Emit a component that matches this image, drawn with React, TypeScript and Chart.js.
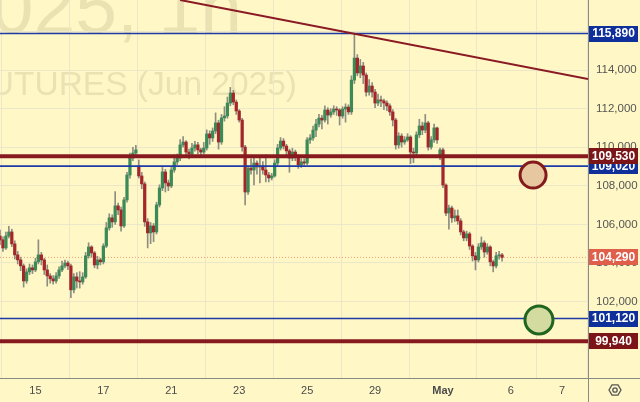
import React, { useEffect, useRef } from "react";
import { Chart, registerables } from "chart.js";

Chart.register(...registerables);

// ---------- DATA ----------
const opens = [105400,105200,104780,105400,105610,104990,104420,104160,103850,103070,
103540,103750,103640,104060,104420,104160,103640,103330,103180,103070,
103330,103640,103850,104000,103850,102610,103280,103070,103020,103280,
104370,104830,104520,103900,104160,104060,104880,105820,106340,106130,
106960,106750,105920,107270,108560,109440,109700,109030,108510,108100,
106130,105560,105920,105610,107010,107890,108720,108150,107990,108820,
109240,109440,110120,110270,109750,109650,109960,110120,109860,109750,
109960,110690,110480,110840,111260,110270,111520,111620,112290,112810,
112340,111880,111410,110010,107680,108920,108820,109180,108980,109030,
108820,108560,108410,108510,109180,109960,110320,110060,109810,109440,
109750,109490,109080,109240,109180,110380,110480,110890,111200,111510,
111410,111930,111670,111830,111980,111930,111620,111980,112080,111830,
113480,114620,113850,114210,113740,112860,113170,112860,112290,112450,
112400,112290,112140,111830,111410,110120,110580,110270,110380,110530,
109750,109700,110640,111100,110890,111260,110010,110380,111000,109490,
109860,108040,106590,106850,106340,106440,106180,105610,105300,105510,
104880,104370,104160,104830,105040,104570,104830,104060,103850,104370,
104420];

const closes = [105200,104780,105400,105610,104990,104420,104160,103850,103070,103540,
103750,103640,104060,104420,104160,103640,103330,103180,103070,103330,
103640,103850,104000,103850,102610,103280,103070,103020,103280,104370,
104830,104520,103900,104160,104060,104880,105820,106340,106130,106960,
106750,105920,107270,108560,109440,109700,109860,108510,108100,106130,
105560,105920,105610,107010,107890,108720,108150,107990,108820,109240,
109440,110120,110270,109750,109650,109960,110120,109860,109750,109960,
110690,110480,110840,111260,110270,111520,111620,112290,112810,112340,
111880,111410,110010,107680,108920,108820,109180,108980,109030,108820,
108560,108410,108510,109180,109960,110320,110060,109810,109440,109750,
109490,109080,109240,109180,110380,110480,110890,111200,111510,111410,
111930,111670,111830,111980,111930,111620,111980,112080,111830,113480,
114620,113850,114210,113740,112860,113170,112860,112290,112450,112400,
112290,112140,111830,111410,110120,110580,110270,110380,110530,109750,
109700,110640,111100,110890,111260,110010,110380,111000,110380,109860,
108040,106590,106850,106340,106440,106180,105610,105300,105510,104880,
104370,104160,104830,105040,104570,104830,104060,103850,104370,104420,
104290];

const highs = [105700,105350,105600,105900,105750,105150,104600,104300,103950,103700,
103950,103900,104250,105200,104550,104250,103900,103450,103350,103500,
103800,104100,104150,104100,103950,103450,103500,103550,103500,104550,
105050,104900,104600,104350,104250,105000,106100,106550,106500,107700,
107100,106900,107400,108700,109700,110000,110100,109340,108700,108200,
106300,106100,106050,107150,108050,108950,108850,108300,108950,109600,
109650,110400,110550,110350,109900,110200,110300,110250,109950,110250,
110900,110850,111000,111780,111400,111700,112100,112600,113100,112950,
112450,111950,111500,110100,109050,109400,109450,109300,109500,109250,
109600,108700,108650,109350,110150,110500,110450,110150,109900,109950,
109850,109600,109400,109400,110500,110650,111100,111450,111700,111650,
112150,112050,112000,112150,112100,112000,112100,112250,112200,113700,
115890,114800,114550,114400,113850,113500,113350,113000,112750,112650,
112500,112400,112250,111950,111500,110750,110700,110550,110700,110600,
109950,110800,111450,111300,111700,111350,110550,111200,111050,109950,
109950,108100,107000,106950,106750,106750,106300,105700,105650,105600,
104950,104550,105000,105350,105150,105000,104900,104150,104550,104600,
104500];

const lows = [104950,104600,104700,105300,104850,104200,103950,103600,102750,102950,
103400,103450,103550,103950,103900,103400,102800,102950,102900,102950,
103200,103550,103750,103650,102200,102450,102700,102700,102900,103200,
104250,104300,103750,103700,103900,103950,104800,105700,105850,106000,
106500,105650,105850,107150,108400,109300,109550,108400,107850,105900,
104780,105000,105100,105500,106900,107750,107680,107750,107900,108700,
109100,109300,110000,109500,109400,109550,109800,109650,109550,109650,
109850,110150,110300,110700,109900,110150,111350,111500,112150,112200,
111700,111300,109800,107010,107550,108600,108050,108600,108150,108600,
108200,108200,108300,108450,109050,109850,109900,109600,108700,109300,
109300,108900,108950,109050,109100,110200,110350,110550,111050,110950,
111300,111200,111550,111700,111650,111150,111500,111300,111700,111700,
113300,113700,113600,113300,112650,112700,112600,112050,112150,112100,
111950,111900,111650,111100,109900,109950,110000,110150,110300,109150,
109200,109600,110500,110650,110750,109850,109900,110250,110200,109350,
107900,106450,105750,106100,106150,106000,105450,105150,105150,104700,
104100,103640,104050,104700,104300,104450,103850,103540,103750,104200,
104100];

// x axis (bar index units) tick positions and labels
const xTickPositions = [12, 35, 58, 81, 104, 127, 150, 173, 190.3];
const xTickLabels = ["15", "17", "21", "23", "25", "29", "May", "6", "7"];

// y axis ticks
const yTickValues = [100000, 102000, 104000, 106000, 108000, 110000, 112000, 114000, 116000];

// horizontal levels
const blueLevels = [115890, 109020, 101120];
const redLevels = [109530, 99940];
const lastPrice = 104290;

// trend line (bar index, price)
const trendX = [61, 199.1];
const trendY = [117630, 113530];

// circle markers (bar index, price)
const redCircle = { x: 180.5, y: 108560 };
const greenCircle = { x: 182.5, y: 101050 };

const X_MIN = 0;
const X_MAX = 199.1;
const Y_MIN = 98040;
const Y_MAX = 117630;

// ---------- STYLE ----------
const BG = "#fff8c6";
const GRID = "#ede7c9";
const GREEN = "#3c8a58";
const RED = "#a3272a";
const WICK = "#8d8d82";
const BLUE_LINE = "#1c3aa8";
const RED_LINE = "#861a1e";
const BLUE_BOX = "#0f2f9a";
const RED_BOX = "#7c1517";
const PRICE_BOX = "#e05f4b";
const FONT = "'Liberation Sans', Arial, sans-serif";

const fmt = (v: number) => v.toLocaleString("en-US");

const decoPlugin = {
  id: "deco",
  beforeDraw(chart: any) {
    const { ctx, width, height, chartArea: a } = chart;
    ctx.save();
    ctx.fillStyle = BG;
    ctx.fillRect(0, 0, width, height);
    ctx.beginPath();
    ctx.rect(a.left, a.top, a.right - a.left, a.bottom - a.top);
    ctx.clip();
    ctx.fillStyle = "rgba(140,130,90,0.18)";
    ctx.textAlign = "right";
    ctx.textBaseline = "alphabetic";
    ctx.font = `75px ${FONT}`;
    ctx.fillText("BTCM2025, 1h", 242, 33);
    ctx.font = `33.5px ${FONT}`;
    ctx.fillText("BITCOIN FUTURES (Jun 2025)", 297, 95);
    ctx.restore();
  },
  afterDraw(chart: any) {
    const { ctx, width, height, chartArea: a } = chart;
    const ys = chart.scales.y;
    ctx.save();
    // axis separator lines
    ctx.strokeStyle = "#8a8a84";
    ctx.lineWidth = 1;
    ctx.beginPath();
    ctx.moveTo(Math.round(a.right) + 0.5, 0);
    ctx.lineTo(Math.round(a.right) + 0.5, height);
    ctx.moveTo(0, Math.round(a.bottom) + 0.5);
    ctx.lineTo(width, Math.round(a.bottom) + 0.5);
    ctx.stroke();

    // level labels
    const labels = [
      ...blueLevels.map((v) => ({ v, bg: BLUE_BOX })),
      ...redLevels.map((v) => ({ v, bg: RED_BOX })),
      { v: lastPrice, bg: PRICE_BOX },
    ];
    ctx.font = `bold 12px ${FONT}`;
    ctx.textAlign = "center";
    ctx.textBaseline = "middle";
    for (const l of labels) {
      const py = ys.getPixelForValue(l.v);
      ctx.fillStyle = l.bg;
      ctx.fillRect(a.right + 1, Math.round(py) - 8, 49, 16);
      ctx.fillStyle = "#ffffff";
      ctx.fillText(fmt(l.v), a.right + 25.5, py + 0.5);
    }

    // settings icon
    const cx = 615, cy = 390, r = 6;
    ctx.strokeStyle = "#555";
    ctx.lineWidth = 1.3;
    ctx.beginPath();
    for (let k = 0; k < 6; k++) {
      const ang = (Math.PI / 3) * k;
      const px = cx + r * Math.cos(ang), py = cy + r * Math.sin(ang);
      if (k === 0) ctx.moveTo(px, py); else ctx.lineTo(px, py);
    }
    ctx.closePath();
    ctx.stroke();
    ctx.beginPath();
    ctx.arc(cx, cy, 2.2, 0, Math.PI * 2);
    ctx.stroke();
    ctx.restore();
  },
};

const noPad = (s: any) => {
  s.paddingTop = 0;
  s.paddingBottom = 0;
  s.paddingLeft = 0;
  s.paddingRight = 0;
};

export default function App() {
  const ref = useRef<HTMLCanvasElement>(null);
  useEffect(() => {
    if (!ref.current) return;
    const idx = closes.map((_, i) => i);
    const bodyColors = idx.map((i) => (closes[i] >= opens[i] ? GREEN : RED));
    const flat = (v: number) => [{ x: X_MIN, y: v }, { x: X_MAX, y: v }];
    const datasets: any[] = [
      {
        type: "line",
        data: flat(lastPrice),
        borderColor: "#ee9a7c",
        borderWidth: 1,
        borderDash: [1, 2],
        pointRadius: 0,
        order: 6,
      },
      {
        type: "bar",
        data: idx.map((i) => ({ x: i, y: [lows[i], highs[i]] })),
        backgroundColor: WICK,
        barThickness: 1,
        grouped: false,
        order: 5,
      },
      {
        type: "bar",
        data: idx.map((i) => ({ x: i, y: [opens[i], closes[i]] })),
        backgroundColor: bodyColors,
        barThickness: 2.6,
        minBarLength: 1,
        grouped: false,
        order: 4,
      },
      ...blueLevels.map((v) => ({
        type: "line",
        data: flat(v),
        borderColor: BLUE_LINE,
        borderWidth: 1.6,
        pointRadius: 0,
        order: 3,
      })),
      ...redLevels.map((v) => ({
        type: "line",
        data: flat(v),
        borderColor: RED_LINE,
        borderWidth: 4,
        pointRadius: 0,
        order: 3,
      })),
      {
        type: "line",
        data: trendX.map((x, k) => ({ x, y: trendY[k] })),
        borderColor: "#8a1a24",
        borderWidth: 2,
        pointRadius: 0,
        order: 2,
      },
      {
        type: "line",
        data: [redCircle],
        showLine: false,
        pointRadius: 13,
        pointBorderWidth: 3,
        pointBackgroundColor: "#e6c79f",
        pointBorderColor: "#841a1c",
        order: 1,
      },
      {
        type: "line",
        data: [greenCircle],
        showLine: false,
        pointRadius: 14,
        pointBorderWidth: 3,
        pointBackgroundColor: "#d3dba0",
        pointBorderColor: "#1f641f",
        order: 0,
      },
    ];

    const chart = new Chart(ref.current, {
      type: "bar",
      data: { datasets },
      plugins: [decoPlugin],
      options: {
        animation: false,
        responsive: false,
        maintainAspectRatio: false,
        events: [],
        layout: { padding: 0, autoPadding: false },
        plugins: { legend: { display: false }, tooltip: { enabled: false } },
        scales: {
          x: {
            type: "linear",
            min: X_MIN,
            max: X_MAX,
            offset: false,
            afterBuildTicks: (s: any) => {
              s.ticks = xTickPositions.map((v) => ({ value: v }));
            },
            afterFit: (s: any) => {
              s.height = 24;
              noPad(s);
            },
            grid: { color: GRID, drawTicks: false, lineWidth: 1 },
            border: { display: false },
            ticks: {
              autoSkip: false,
              maxRotation: 0,
              padding: 6,
              color: "#4a4a4a",
              font: (c: any) => ({
                family: FONT,
                size: 11,
                weight: c.tick && c.tick.value === 150 ? "bold" : "normal",
              }),
              callback: (v: any) => {
                const k = xTickPositions.indexOf(Number(v));
                return k >= 0 ? xTickLabels[k] : "";
              },
            },
          },
          y: {
            type: "linear",
            position: "right",
            min: Y_MIN,
            max: Y_MAX,
            afterBuildTicks: (s: any) => {
              s.ticks = yTickValues.map((v) => ({ value: v }));
            },
            afterFit: (s: any) => {
              s.width = 52;
              noPad(s);
            },
            grid: { color: GRID, drawTicks: false, lineWidth: 1 },
            border: { display: false },
            ticks: {
              padding: 8,
              color: "#555",
              font: { family: FONT, size: 11.5 },
              callback: (v: any) => fmt(Number(v)),
            },
          },
        },
      } as any,
    });
    return () => chart.destroy();
  }, []);

  return (
    <div style={{ position: "fixed", left: 0, top: 0, width: 640, height: 402 }}>
      <canvas ref={ref} width={640} height={402} style={{ display: "block" }} />
    </div>
  );
}
